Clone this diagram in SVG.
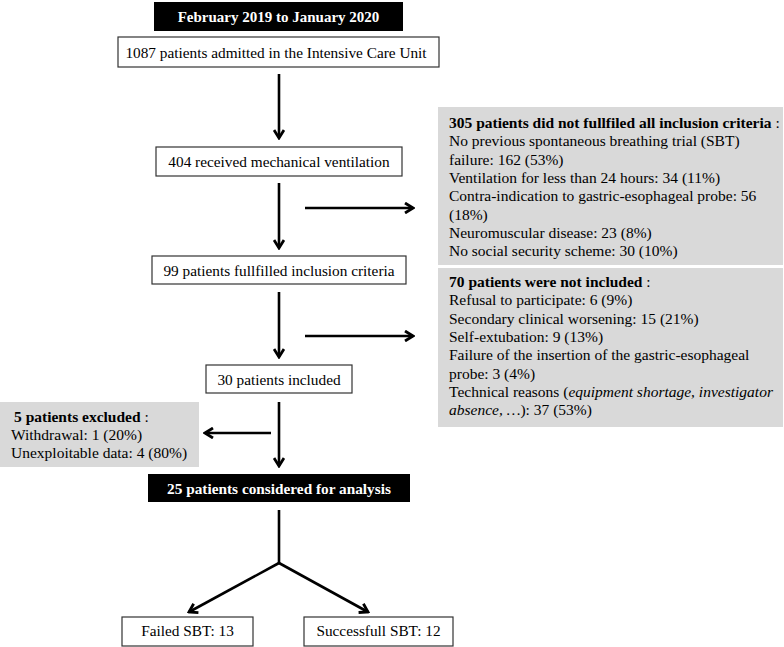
<svg xmlns="http://www.w3.org/2000/svg" width="784" height="647" viewBox="0 0 784 647">
<defs>
<marker id="ah" viewBox="0 0 12 12" refX="10" refY="6" markerWidth="12" markerHeight="12" markerUnits="userSpaceOnUse" orient="auto">
<path d="M2,1 L10,6 L2,11" fill="none" stroke="#000" stroke-width="2.8"/>
</marker>
<style>
text{font-family:"Liberation Serif","Times New Roman",serif;font-size:15.3px;fill:#000}
.b{font-weight:bold}
.w{fill:#fff;font-weight:bold}
.c{text-anchor:middle}
.box{fill:#fff;stroke:#333;stroke-width:1.2}
.blk{fill:#000}
.grey{fill:#d9d9d9}
.ln{stroke:#000;stroke-width:2.6;fill:none}
.s{font-size:15.5px}
</style>
</defs>
<rect width="784" height="647" fill="#fff"/>
<g id="period">
<rect class="blk" x="154" y="2" width="249" height="29"/>
<text class="w c" x="278.5" y="22" style="font-size:15px">February 2019 to January 2020</text>
</g>
<g id="admitted">
<rect class="box" x="118" y="37" width="321" height="30"/>
<text class="c" x="276" y="58">1087 patients admitted in the Intensive Care Unit</text>
</g>
<g id="ventilation">
<rect class="box" x="156" y="147" width="246" height="29"/>
<text class="c" x="279" y="167">404 received mechanical ventilation</text>
</g>
<g id="criteria">
<rect class="box" x="152" y="256" width="254" height="28"/>
<text class="c" x="279" y="276">99 patients fullfilled inclusion criteria</text>
</g>
<g id="included">
<rect class="box" x="206" y="365" width="146" height="28"/>
<text class="c" x="279" y="385">30 patients included</text>
</g>
<g id="analysis">
<rect class="blk" x="148" y="474" width="262" height="28"/>
<text class="w c" x="279" y="494">25 patients considered for analysis</text>
</g>
<g id="failed">
<rect class="box" x="122" y="617" width="131" height="29"/>
<text class="c" x="187.5" y="636">Failed SBT: 13</text>
</g>
<g id="success">
<rect class="box" x="304" y="617" width="149" height="29"/>
<text class="c" x="378.5" y="636">Successfull SBT: 12</text>
</g>
<g id="notfulfilled">
<rect class="grey" x="438" y="107" width="345" height="158"/>
<text class="s" x="449" y="128"><tspan class="b">305 patients did not fullfiled all inclusion criteria</tspan> :</text>
<text class="s" x="449" y="146">No previous spontaneous breathing trial (SBT)</text>
<text class="s" x="449" y="165">failure: 162 (53%)</text>
<text class="s" x="449" y="183">Ventilation for less than 24 hours: 34 (11%)</text>
<text class="s" x="449" y="201">Contra-indication to gastric-esophageal probe: 56</text>
<text class="s" x="449" y="220">(18%)</text>
<text class="s" x="449" y="238">Neuromuscular disease: 23 (8%)</text>
<text class="s" x="449" y="256">No social security scheme: 30 (10%)</text>
</g>
<g id="notincluded">
<rect class="grey" x="438" y="268" width="345" height="159"/>
<text class="s" x="449" y="287"><tspan class="b">70 patients were not included</tspan> :</text>
<text class="s" x="449" y="305">Refusal to participate: 6 (9%)</text>
<text class="s" x="449" y="324">Secondary clinical worsening: 15 (21%)</text>
<text class="s" x="449" y="342">Self-extubation: 9 (13%)</text>
<text class="s" x="449" y="360">Failure of the insertion of the gastric-esophageal</text>
<text class="s" x="449" y="379">probe: 3 (4%)</text>
<text class="s" x="449" y="397">Technical reasons (<tspan font-style="italic">equipment shortage, investigator</tspan></text>
<text class="s" x="449" y="415"><tspan font-style="italic">absence, …</tspan>): 37 (53%)</text>
</g>
<g id="excluded">
<rect class="grey" x="0" y="402" width="199" height="65"/>
<text class="s" x="14" y="422"><tspan class="b">5 patients excluded</tspan> :</text>
<text class="s" x="11" y="440">Withdrawal: 1 (20%)</text>
<text class="s" x="11" y="458">Unexploitable data: 4 (80%)</text>
</g>
<g id="connectors">
<line class="ln" x1="279" y1="74" x2="279" y2="138" marker-end="url(#ah)"/>
<line class="ln" x1="279" y1="183" x2="279" y2="248" marker-end="url(#ah)"/>
<line class="ln" x1="305" y1="208" x2="413" y2="208" marker-end="url(#ah)"/>
<line class="ln" x1="279" y1="292" x2="279" y2="357" marker-end="url(#ah)"/>
<line class="ln" x1="305" y1="336" x2="413" y2="336" marker-end="url(#ah)"/>
<line class="ln" x1="279" y1="402" x2="279" y2="466" marker-end="url(#ah)"/>
<line class="ln" x1="271" y1="433" x2="205" y2="433" marker-end="url(#ah)"/>
<line class="ln" x1="279" y1="510" x2="279" y2="563"/>
<line class="ln" x1="279" y1="563" x2="189" y2="612" marker-end="url(#ah)"/>
<line class="ln" x1="279" y1="563" x2="368" y2="612" marker-end="url(#ah)"/>
</g>
</svg>
